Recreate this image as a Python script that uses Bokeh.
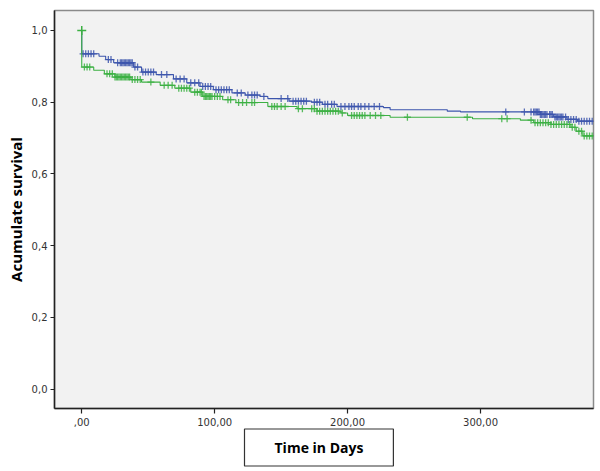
import numpy as np
from bokeh.plotting import figure
from bokeh.models import Range1d, Title, FixedTicker
from bokeh.embed import file_html
from bokeh.resources import INLINE

# ---- data ----
blue_times = [0, 0, 13, 18, 24, 39, 45, 56, 69, 79, 89, 99, 113, 123, 134, 140, 156, 173, 181,
              192, 227, 232, 275, 285, 345, 355, 365, 373, 390]
blue_surv = [1.0, 0.935, 0.928, 0.919, 0.910, 0.898, 0.884, 0.877, 0.865, 0.854, 0.844, 0.835,
             0.826, 0.820, 0.816, 0.810, 0.803, 0.800, 0.794, 0.788, 0.785, 0.779, 0.775, 0.773,
             0.766, 0.759, 0.752, 0.747, 0.747]

green_times = [0, 0, 9, 17, 25, 37, 45, 59, 70, 82, 91, 106, 116, 140, 162, 177, 195, 200, 232,
               294, 330, 340, 353, 368, 372, 377, 390]
green_surv = [1.0, 0.898, 0.889, 0.879, 0.870, 0.863, 0.856, 0.847, 0.839, 0.828, 0.816, 0.807,
              0.799, 0.788, 0.782, 0.775, 0.770, 0.763, 0.758, 0.754, 0.750, 0.743, 0.738, 0.730,
              0.719, 0.706, 0.706]

blue_censored = [1, 3, 5, 7, 9, 20, 22, 27, 29, 30, 31, 32, 33, 34, 35, 36, 37, 38, 40, 42, 46, 48,
                 50, 52, 54, 60, 64, 71, 74, 77, 82, 85, 88, 91, 93, 95, 97, 101, 103, 105, 107,
                 109, 111, 117, 120, 125, 128, 130, 132, 137, 150, 155, 159, 161, 163, 165, 167,
                 169, 175, 177, 179, 183, 185, 188, 190, 195, 198, 201, 203, 205, 208, 210, 213,
                 216, 220, 224, 319, 333, 338, 340, 341, 342, 343, 344, 345, 346, 347, 348, 349,
                 350, 352, 353, 354, 356, 357, 358, 359, 360, 361, 362, 364, 366, 368, 370, 372,
                 374, 376, 378, 380, 382, 384]
green_censored = [2, 4, 6, 19, 21, 23, 25, 26, 27, 28, 29, 30, 31, 32, 33, 34, 35, 36, 38, 40, 42,
                  44, 52, 62, 65, 68, 73, 75, 77, 79, 81, 85, 87, 89, 90, 92, 93, 94, 95, 96, 97,
                  98, 100, 102, 104, 110, 112, 118, 121, 124, 128, 130, 143, 145, 147, 150, 153,
                  163, 166, 173, 175, 177, 179, 181, 183, 185, 187, 189, 191, 193, 196, 203, 205,
                  207, 209, 211, 213, 217, 221, 225, 245, 290, 316, 320, 338, 341, 343, 345, 347,
                  349, 351, 353, 355, 357, 359, 361, 363, 365, 367, 369, 371, 374, 376, 378, 380,
                  382, 384]
green_start_censored = [0]

x_ticks = [0, 100, 200, 300]
x_tick_labels = [",00", "100,00", "200,00", "300,00"]
y_ticks = [0.0, 0.2, 0.4, 0.6, 0.8, 1.0]
y_tick_labels = ["0,0", "0,2", "0,4", "0,6", "0,8", "1,0"]

BLUE = "#3d56ad"
GREEN = "#3cb043"


def step_value(times, surv, t):
    idx = np.searchsorted(np.array(times), np.array(t, dtype=float), side="right") - 1
    return list(np.array(surv)[idx])


p = figure(width=600, height=471, output_backend="svg", toolbar_location=None,
           x_range=Range1d(-20.5, 385), y_range=Range1d(-0.054, 1.0557),
           min_border_left=54, min_border_right=7, min_border_top=10, min_border_bottom=63)

p.background_fill_color = "#f2f2f2"
p.border_fill_color = "white"
p.outline_line_color = "#8a8a8a"
p.outline_line_width = 1.5
p.xgrid.visible = False
p.ygrid.visible = False

p.step(blue_times, blue_surv, mode="after", line_color=BLUE, line_width=1.1)
p.cross(blue_censored, step_value(blue_times, blue_surv, blue_censored), size=7,
        line_color=BLUE, line_width=1.3, alpha=0.85)

p.step(green_times, green_surv, mode="after", line_color=GREEN, line_width=1.1)
p.cross(green_censored, step_value(green_times, green_surv, green_censored), size=7,
        line_color=GREEN, line_width=1.3, alpha=0.85)
p.cross(green_start_censored, [green_surv[0]] * len(green_start_censored), size=9,
        line_color=GREEN, line_width=1.5)

for ax in (p.xaxis, p.yaxis):
    ax.axis_line_color = "#222222"
    ax.axis_line_width = 1.5
    ax.major_tick_line_color = "#222222"
    ax.major_tick_line_width = 1.2
    ax.minor_tick_line_color = None
    ax.major_tick_in = 0
    ax.major_label_text_font = "DejaVu Sans"
    ax.major_label_text_font_size = "10px"
    ax.major_label_text_color = "#333333"

p.xaxis.ticker = FixedTicker(ticks=x_ticks)
p.xaxis.major_label_overrides = dict(zip(x_ticks, x_tick_labels))
p.xaxis.major_tick_out = 5
p.xaxis.major_label_standoff = 4

p.yaxis.ticker = FixedTicker(ticks=y_ticks)
p.yaxis.major_label_overrides = dict(zip(y_ticks, y_tick_labels))
p.yaxis.major_tick_out = 4
p.yaxis.major_label_standoff = 3
p.yaxis.axis_label = "Acumulate survival"
p.yaxis.axis_label_text_font = "Open Sans"
p.yaxis.axis_label_text_font_style = "bold"
p.yaxis.axis_label_text_font_size = "15px"
p.yaxis.axis_label_text_color = "black"
p.yaxis.axis_label_standoff = 3

title_box = Title(text="Time in Days", align="left", offset=190, standoff=-3,
                  text_font="Open Sans", text_font_style="bold",
                  text_font_size="14px", text_color="black",
                  border_line_color="#333333", border_line_width=1.2,
                  background_fill_color="white",
                  padding=dict(left=30, right=30, top=9, bottom=9))
p.add_layout(title_box, "below")

open("out.html", "w").write(file_html(p, INLINE))
